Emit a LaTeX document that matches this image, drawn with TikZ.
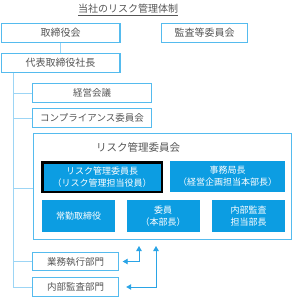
\documentclass[tikz,border=0pt]{standalone}
\usepackage{fontspec}
\setmainfont{Noto Sans CJK JP}
\usetikzlibrary{arrows.meta, positioning, calc}
\definecolor{BoxLine}{HTML}{55BBEE}
\definecolor{BoxFill}{HTML}{0C9DE2}
\definecolor{LinkLine}{HTML}{9CD5F5}
\definecolor{ArrowInk}{HTML}{2AA4E6}
\definecolor{TextInk}{HTML}{555555}

\begin{document}
\begin{tikzpicture}[x=1pt, y=-1pt,
  font=\fontsize{9.5}{11}\selectfont, text=TextInk,
  orgbox/.style={draw=BoxLine, line width=1.4pt, fill=white, inner sep=0pt, minimum height=18.6pt},
  unitbox/.style={fill=BoxFill, text=white, inner sep=0pt, align=center, minimum height=32pt, font=\fontsize{9}{12}\selectfont},
  link/.style={draw=LinkLine, line width=1pt},
  twoway/.style={draw=ArrowInk, line width=0.9pt, {Triangle[length=5pt,width=5.5pt]}-{Triangle[length=5pt,width=5.5pt]}}]
\useasboundingbox (0,0) rectangle (293,300);

\node[font=\fontsize{10}{12}\selectfont] (title) at (128,10) {\underline{当社のリスク管理体制}};

\node[orgbox, minimum width=118.6pt, font=\fontsize{10}{12}\selectfont] (board) at (60.5,33) {取締役会};
\node[orgbox, minimum width=85.6pt, font=\fontsize{10}{12}\selectfont] (auditcom) at (204.5,33) {監査等委員会};
\node[orgbox, minimum width=118.6pt, font=\fontsize{10}{12}\selectfont] (ceo) at (60.5,63) {代表取締役社長};
\node[orgbox, minimum width=118.6pt] (mgmt) at (92,93) {経営会議};
\node[orgbox, minimum width=118.6pt] (compl) at (92,118) {コンプライアンス委員会};

% risk committee
\node[orgbox, minimum width=257.6pt, minimum height=105.6pt] (risk) at (162.5,186.5) {};
\node[font=\fontsize{10.5}{12}\selectfont] (risktitle) at (138,147) {リスク管理委員会};
\node[unitbox, draw=black, line width=2.5pt, minimum width=119.5pt, minimum height=29.5pt]
  (chair) at (102,177) {リスク管理委員長\\（リスク管理担当役員）};
\node[unitbox, minimum width=115pt, minimum height=31pt] (office) at (227.5,176.5) {事務局長\\（経営企画担当本部長）};
\node[unitbox, minimum width=73pt] (fulltime) at (78.5,216) {常勤取締役};
\node[unitbox, minimum width=73pt] (member) at (163,216) {委員\\（本部長）};
\node[unitbox, minimum width=73pt] (auditmgr) at (248.5,216) {内部監査\\担当部長};

\node[orgbox, minimum width=86pt, minimum height=18pt] (bizdept) at (75.5,261.5) {業務執行部門};
\node[orgbox, minimum width=86pt] (auditdept) at (75.5,287) {内部監査部門};

% tree lines
\coordinate (trunk) at ($(ceo.south west)+(13,0)$);
\draw[link] (board) -- (ceo);
\draw[link] (trunk) |- (auditdept.west);
\draw[link] (trunk |- mgmt.west) -- (mgmt.west);
\draw[link] (trunk |- compl.west) -- (compl.west);
\draw[link] (trunk |- risk.west) ++(0,1.5) -- ($(risk.west)+(0,1.5)$);
\draw[link] (trunk |- bizdept.west) -- (bizdept.west);

% reporting arrows
\coordinate (tipA) at ($(risk.south west)+(106,6)$);
\coordinate (tipB) at ($(risk.south west)+(123,6)$);
\draw[twoway, shorten >=3.5pt] (tipA) |- (bizdept.east);
\draw[twoway, shorten >=7pt] (tipB) |- (auditdept.east);
\end{tikzpicture}
\end{document}
